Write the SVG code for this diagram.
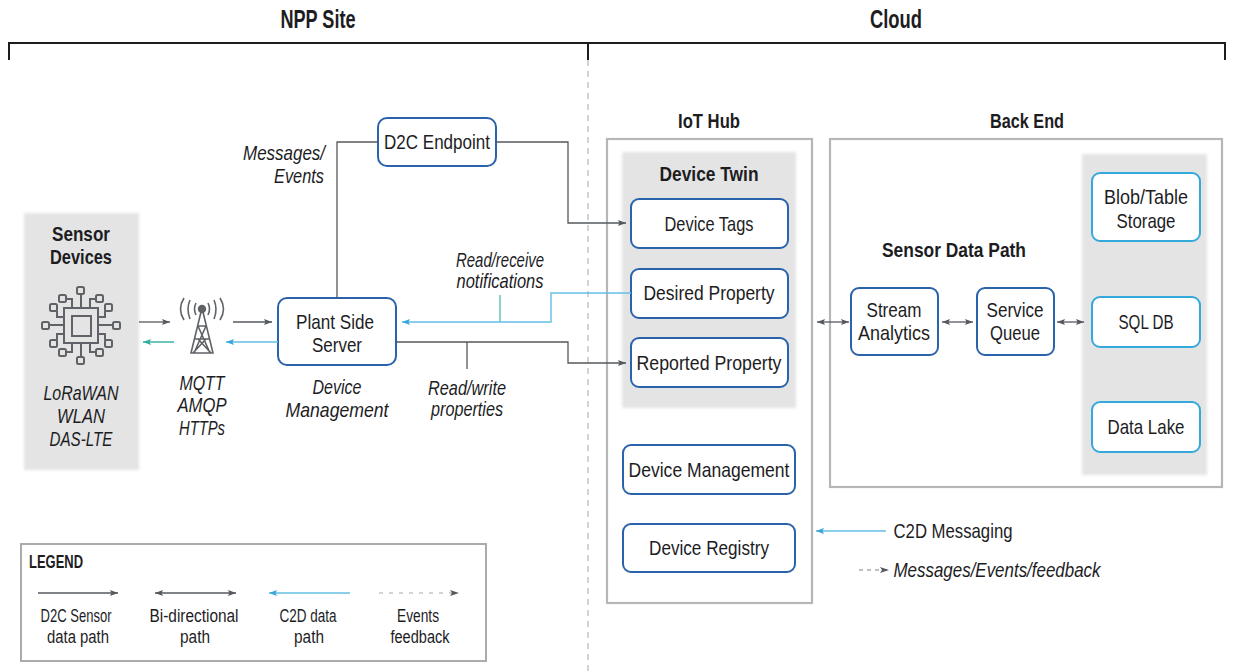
<svg xmlns="http://www.w3.org/2000/svg" width="1235" height="672" viewBox="0 0 1235 672">
<defs>
<marker id="ag" markerUnits="userSpaceOnUse" markerWidth="9" markerHeight="8" refX="8" refY="4" orient="auto-start-reverse"><path d="M0 1L8 4L0 7L1.5 4Z" fill="#55595e"/></marker>
<marker id="ab" markerUnits="userSpaceOnUse" markerWidth="9" markerHeight="8" refX="8" refY="4" orient="auto-start-reverse"><path d="M0 1L8 4L0 7L1.5 4Z" fill="#3aa5d8"/></marker>
<marker id="at" markerUnits="userSpaceOnUse" markerWidth="9" markerHeight="8" refX="8" refY="4" orient="auto-start-reverse"><path d="M0 1L8 4L0 7L1.5 4Z" fill="#2fae9c"/></marker>
<filter id="soft" x="-5%" y="-5%" width="110%" height="110%"><feGaussianBlur stdDeviation="1.5"/></filter>
</defs>
<style>
text{font-family:"Liberation Sans",Arial,sans-serif;fill:#1d1d1f;text-anchor:middle;font-size:21px}
.b{font-weight:700}
.i{font-style:italic}
.t{font-size:25px}
.s{font-size:17.5px}
.n rect{fill:#fff;stroke:#2a63ab;stroke-width:2}
.n rect.c{stroke:#35a8dc}
.g{fill:#e4e4e5;filter:url(#soft)}
.f{fill:#fff;stroke:#b4b6b8;stroke-width:2.2}
.l{fill:none;stroke:#55595e;stroke-width:1.3}
.lb{fill:none;stroke:#63bfe3;stroke-width:1.4}
.ic{fill:none;stroke:#5f6266;stroke-width:2}
</style>
<rect width="1235" height="672" fill="#fff"/>
<g id="brackets">
<path d="M9 60V43H1225V60M588 43V60" fill="none" stroke="#1d1d1f" stroke-width="2"/>
<path d="M588 60V672" fill="none" stroke="#a5a7a9" stroke-width="1" stroke-dasharray="6 5"/>
<text x="318" y="28" class="b t" textLength="75" lengthAdjust="spacingAndGlyphs">NPP Site</text>
<text x="896" y="28" class="b t" textLength="52" lengthAdjust="spacingAndGlyphs">Cloud</text>
</g>
<g id="sensor-devices">
<rect class="g" x="24" y="213" width="115" height="257"/>
<text x="81" y="241" class="b" textLength="58" lengthAdjust="spacingAndGlyphs">Sensor</text>
<text x="81" y="264" class="b" textLength="62" lengthAdjust="spacingAndGlyphs">Devices</text>
<g class="ic">
<rect x="64" y="308" width="34" height="35"/><rect x="72" y="316" width="19" height="20"/>
<path d="M81 308V294M72 308V299H66M90 308V299H96M64 317H57V311M64 325H49M64 334H57V340M98 317H105V311M98 325H113M98 334H105V340M81 343V357M72 343V352H66M90 343V352H96"/>
<rect x="77" y="287" width="7" height="7" rx="1.5"/><rect x="59" y="295" width="7" height="7" rx="1.5"/><rect x="96" y="295" width="7" height="7" rx="1.5"/><rect x="50" y="304" width="7" height="7" rx="1.5"/><rect x="105" y="304" width="7" height="7" rx="1.5"/><rect x="42" y="322" width="7" height="7" rx="1.5"/><rect x="113" y="322" width="7" height="7" rx="1.5"/><rect x="50" y="340" width="7" height="7" rx="1.5"/><rect x="105" y="340" width="7" height="7" rx="1.5"/><rect x="59" y="349" width="7" height="7" rx="1.5"/><rect x="96" y="349" width="7" height="7" rx="1.5"/><rect x="77" y="357" width="7" height="7" rx="1.5"/>
</g>
<text x="81" y="400" class="i" textLength="75" lengthAdjust="spacingAndGlyphs">LoRaWAN</text>
<text x="81" y="423" class="i" textLength="48" lengthAdjust="spacingAndGlyphs">WLAN</text>
<text x="81" y="446" class="i" textLength="63" lengthAdjust="spacingAndGlyphs">DAS-LTE</text>
</g>
<g id="tower">
<g class="ic">
<path d="M202 308L191 353H213ZM198 326H206M195 339H209M198 326L210 353M206 326L194 353M193 353L206 339M211 353L198 339" stroke-width="1.6"/>
<circle cx="202" cy="309" r="3.2" fill="#5f6266"/>
<path d="M196 303Q193 309 196 315M208 303Q211 309 208 315M190 300Q186 309 190 319M214 300Q218 309 214 319M184 298Q177 309 184 320M220 298Q227 309 220 320" stroke-width="1.6"/>
</g>
<text x="202" y="390" class="i" textLength="45" lengthAdjust="spacingAndGlyphs">MQTT</text>
<text x="202" y="412" class="i" textLength="49" lengthAdjust="spacingAndGlyphs">AMQP</text>
<text x="202" y="435" class="i" textLength="46" lengthAdjust="spacingAndGlyphs">HTTPs</text>
</g>
<g id="plant-side-server" class="n">
<rect x="278" y="298" width="118" height="67" rx="9"/>
<text x="335" y="329" textLength="78" lengthAdjust="spacingAndGlyphs">Plant Side</text>
<text x="337" y="352" textLength="50" lengthAdjust="spacingAndGlyphs">Server</text>
</g>
<g id="device-management-label">
<text x="337" y="394" class="i" textLength="49" lengthAdjust="spacingAndGlyphs">Device</text>
<text x="337" y="417" class="i" textLength="103" lengthAdjust="spacingAndGlyphs">Management</text>
</g>
<g id="d2c-endpoint" class="n">
<rect x="378" y="118" width="118" height="48" rx="9"/>
<text x="437" y="149" textLength="106" lengthAdjust="spacingAndGlyphs">D2C Endpoint</text>
</g>
<g id="iot-hub">
<text x="709" y="128" class="b" textLength="62" lengthAdjust="spacingAndGlyphs">IoT Hub</text>
<rect class="f" x="607" y="139" width="205" height="464"/>
</g>
<g id="device-twin">
<rect class="g" x="622" y="152" width="174" height="256"/>
<text x="709" y="181" class="b" textLength="99" lengthAdjust="spacingAndGlyphs">Device Twin</text>
</g>
<g id="device-tags" class="n"><rect x="631" y="199" width="157" height="49" rx="8"/><text x="709" y="231" textLength="89" lengthAdjust="spacingAndGlyphs">Device Tags</text></g>
<g id="desired-property" class="n"><rect x="631" y="269" width="157" height="49" rx="8"/><text x="709" y="300" textLength="131" lengthAdjust="spacingAndGlyphs">Desired Property</text></g>
<g id="reported-property" class="n"><rect x="631" y="338" width="157" height="49" rx="8"/><text x="709" y="370" textLength="145" lengthAdjust="spacingAndGlyphs">Reported Property</text></g>
<g id="device-management" class="n"><rect x="623" y="445" width="172" height="49" rx="8"/><text x="709" y="477" textLength="161" lengthAdjust="spacingAndGlyphs">Device Management</text></g>
<g id="device-registry" class="n"><rect x="623" y="524" width="172" height="48" rx="8"/><text x="709" y="555" textLength="120" lengthAdjust="spacingAndGlyphs">Device Registry</text></g>
<g id="back-end">
<text x="1027" y="128" class="b" textLength="74" lengthAdjust="spacingAndGlyphs">Back End</text>
<rect class="f" x="830" y="139" width="392" height="348"/>
<rect class="g" x="1082" y="154" width="125" height="321"/>
<text x="954" y="257" class="b" textLength="144" lengthAdjust="spacingAndGlyphs">Sensor Data Path</text>
</g>
<g id="stream-analytics" class="n"><rect x="851" y="288" width="87" height="67" rx="8"/><text x="894" y="317" textLength="55" lengthAdjust="spacingAndGlyphs">Stream</text><text x="894" y="340" textLength="72" lengthAdjust="spacingAndGlyphs">Analytics</text></g>
<g id="service-queue" class="n"><rect x="977" y="288" width="77" height="67" rx="8"/><text x="1015" y="317" textLength="57" lengthAdjust="spacingAndGlyphs">Service</text><text x="1015" y="340" textLength="50" lengthAdjust="spacingAndGlyphs">Queue</text></g>
<g id="blob-table-storage" class="n"><rect class="c" x="1092" y="173" width="108" height="68" rx="8"/><text x="1146" y="204" textLength="84" lengthAdjust="spacingAndGlyphs">Blob/Table</text><text x="1146" y="228" textLength="59" lengthAdjust="spacingAndGlyphs">Storage</text></g>
<g id="sql-db" class="n"><rect class="c" x="1092" y="297" width="108" height="50" rx="8"/><text x="1146" y="329" textLength="55" lengthAdjust="spacingAndGlyphs">SQL DB</text></g>
<g id="data-lake" class="n"><rect class="c" x="1092" y="402" width="108" height="50" rx="8"/><text x="1146" y="434" textLength="77" lengthAdjust="spacingAndGlyphs">Data Lake</text></g>
<g id="connectors">
<path class="l" d="M139 322H170" marker-end="url(#ag)"/>
<path class="l" d="M233 322H272" marker-end="url(#ag)"/>
<path class="lb" d="M174 342H143" style="stroke:#2fae9c" marker-end="url(#at)"/>
<path class="lb" d="M278 342H226" marker-end="url(#ab)"/>
<path class="l" d="M337 298V142H378"/>
<path class="l" d="M496 142H568V223H626" marker-end="url(#ag)"/>
<path class="lb" d="M631 293H551V322H402" marker-end="url(#ab)"/>
<path class="lb" d="M500 295V322" style="stroke:#5cbfb8"/>
<path class="l" d="M396 342H568V363H626" marker-end="url(#ag)"/>
<path class="l" d="M467 342V369"/>
<path class="l" d="M817 322H849" marker-start="url(#ag)" marker-end="url(#ag)"/>
<path class="l" d="M942 322H973" marker-start="url(#ag)" marker-end="url(#ag)"/>
<path class="l" d="M1057 322H1084" marker-start="url(#ag)" marker-end="url(#ag)"/>
<path class="lb" d="M886 531H816" marker-end="url(#ab)"/>
<path class="l" d="M859 570H888" stroke-dasharray="4 4" style="stroke:#a9abad"/>
<path d="M880 567L889 570L880 573L882 570Z" fill="#55595e"/>
</g>
<g id="labels">
<text x="284" y="160" class="i" textLength="82" lengthAdjust="spacingAndGlyphs">Messages/</text>
<text x="299" y="183" class="i" textLength="50" lengthAdjust="spacingAndGlyphs">Events</text>
<text x="500" y="267" class="i" textLength="88" lengthAdjust="spacingAndGlyphs">Read/receive</text>
<text x="500" y="288" class="i" textLength="87" lengthAdjust="spacingAndGlyphs">notifications</text>
<text x="467" y="395" class="i" textLength="78" lengthAdjust="spacingAndGlyphs">Read/write</text>
<text x="467" y="416" class="i" textLength="72" lengthAdjust="spacingAndGlyphs">properties</text>
<text x="953" y="538" textLength="119" lengthAdjust="spacingAndGlyphs">C2D Messaging</text>
<text x="997" y="577" class="i" textLength="207" lengthAdjust="spacingAndGlyphs">Messages/Events/feedback</text>
</g>
<g id="legend">
<rect x="21" y="544" width="465" height="117" fill="#fff" stroke="#a9abad" stroke-width="2"/>
<text x="56" y="568" class="b s" textLength="54" lengthAdjust="spacingAndGlyphs">LEGEND</text>
<path class="l" d="M38 593H118" marker-end="url(#ag)"/>
<path class="l" d="M155 593H236" marker-start="url(#ag)" marker-end="url(#ag)"/>
<path class="lb" d="M350 593H269" marker-end="url(#ab)"/>
<path class="l" d="M379 593H459" stroke-dasharray="4 6" style="stroke:#c4c5c7"/>
<path d="M450 590L459 593L450 596L452 593Z" fill="#55595e"/>
<text x="76" y="622" class="s" textLength="71" lengthAdjust="spacingAndGlyphs">D2C Sensor</text>
<text x="78" y="643" class="s" textLength="62" lengthAdjust="spacingAndGlyphs">data path</text>
<text x="194" y="622" class="s" textLength="89" lengthAdjust="spacingAndGlyphs">Bi-directional</text>
<text x="195" y="643" class="s" textLength="30" lengthAdjust="spacingAndGlyphs">path</text>
<text x="308" y="622" class="s" textLength="57" lengthAdjust="spacingAndGlyphs">C2D data</text>
<text x="309" y="643" class="s" textLength="30" lengthAdjust="spacingAndGlyphs">path</text>
<text x="418" y="622" class="s" textLength="42" lengthAdjust="spacingAndGlyphs">Events</text>
<text x="420" y="643" class="s" textLength="59" lengthAdjust="spacingAndGlyphs">feedback</text>
</g>
</svg>
